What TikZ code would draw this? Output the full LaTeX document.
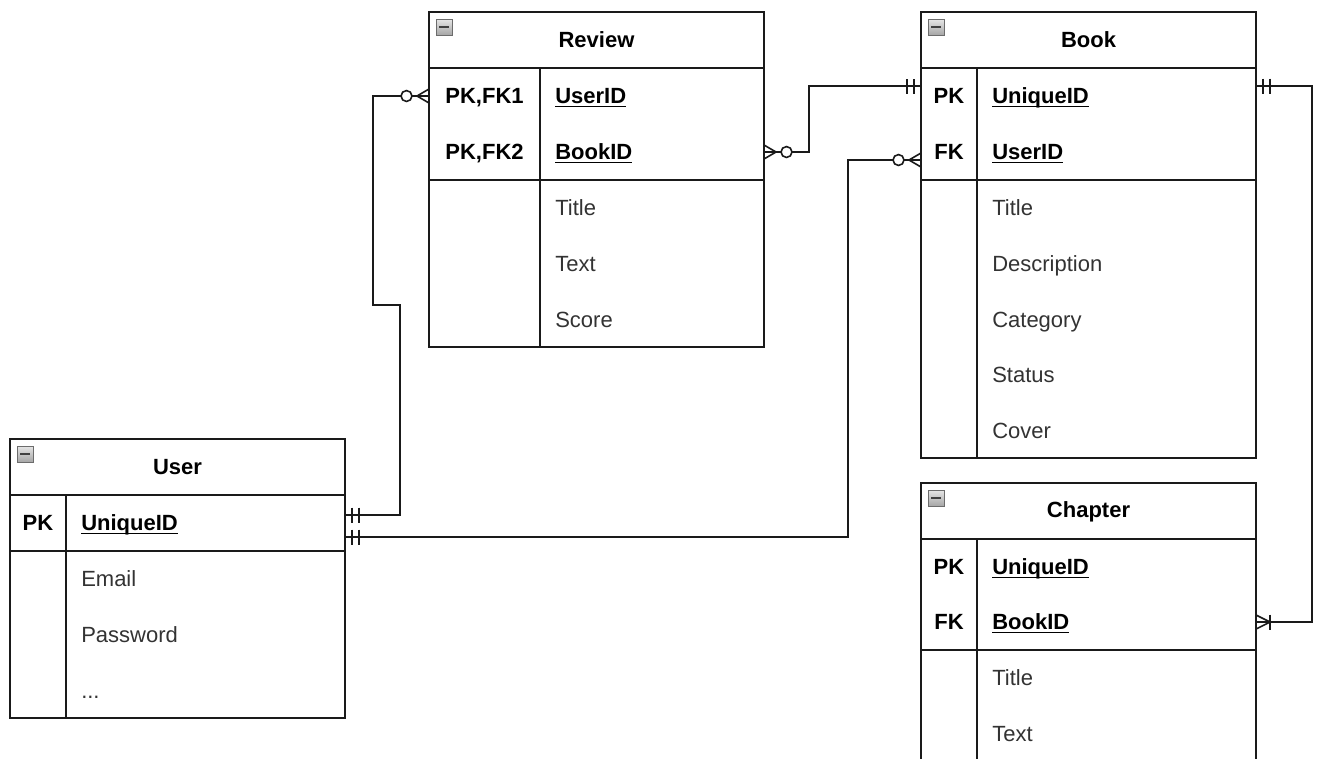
\documentclass[tikz,border=0pt]{standalone}
\usepackage{fontspec}
\setmainfont{Liberation Sans}
\usetikzlibrary{calc}
\definecolor{ln}{HTML}{1A1A1A}
\definecolor{txt}{HTML}{333333}
\newcommand\ulin[1]{\setbox0=\hbox{#1}\rlap{\rule[-2.6pt]{\wd0}{1.1pt}}\box0}
\tikzset{
  tbl/.style={draw=ln, line width=1.2pt, fill=white, rectangle, inner sep=0pt, outer sep=0pt,
              minimum width=251.25pt, anchor=north west},
  tline/.style={draw=ln, line width=1.2pt},
  basefont/.style={font=\fontsize{16.5}{19.8}\selectfont, inner sep=0pt, text height=11.8pt, text depth=0pt},
  ttl/.style={basefont, font=\fontsize{16.5}{19.8}\selectfont\bfseries, text=black},
  keyc/.style={basefont, font=\fontsize{16.5}{19.8}\selectfont\bfseries, text=black},
  fld/.style={basefont, anchor=west, text=txt},
  kfld/.style={basefont, font=\fontsize{16.5}{19.8}\selectfont\bfseries, anchor=west, text=black},
  conn/.style={draw=ln, line width=1.2pt},
  erone/.pic={\draw[conn] (7,-7.5) -- (7,7.5) (14,-7.5) -- (14,7.5);},
  erzeromany/.pic={\draw[conn] (0,-7) -- (12,0) -- (0,7) (0,0) -- (12,0);
                   \draw[conn, fill=white] (22.5,0) circle[radius=4.1pt];},
  eronemany/.pic={\draw[conn] (0,-7) -- (14,0) -- (0,7) (0,0) -- (14,0);
                  \draw[conn] (14,-7.5) -- (14,7.5);},
  colicon/.pic={\shade[top color=white!80!gray, bottom color=gray!70, draw=gray!85!black, line width=0.5pt]
                  (0,0) rectangle (16,16);
                \draw[line width=1.4pt, draw=black!75] (3,8) -- (13,8);}
}
\begin{document}
\begin{tikzpicture}[x=0.75pt,y=-0.75pt]
\useasboundingbox (0,0) rectangle (1317,758);
\fill[white] (0,0) rectangle (1317,758);
\clip (0,0) rectangle (1317,758);

% ---------- Review ----------
\node[tbl, minimum height=251.25pt] (review) at (429,12) {};
\draw[tline] (429,68) -- (764,68) (429,180) -- (764,180) (540,68) -- (540,347);
\pic at (436,19) {colicon};
\node[ttl] (revT) at (596.5,40) {Review};
\node[keyc] (revK1) at (484.5,96) {PK,FK1};
\node[keyc] (revK2) at (484.5,152) {PK,FK2};
\node[kfld] (revF1) at (555,96) {\ulin{UserID}};
\node[kfld] (revF2) at (555,152) {\ulin{BookID}};
\node[fld] (revF3) at (555,208) {Title};
\node[fld] (revF4) at (555,264) {Text};
\node[fld] (revF5) at (555,320) {Score};

% ---------- Book ----------
\node[tbl, minimum height=334.5pt] (book) at (921,12) {};
\draw[tline] (921,68) -- (1256,68) (921,180) -- (1256,180) (977,68) -- (977,458);
\pic at (928,19) {colicon};
\node[ttl] (bookT) at (1088.5,40) {Book};
\node[keyc] (bookK1) at (949,96) {PK};
\node[keyc] (bookK2) at (949,152) {FK};
\node[kfld] (bookF1) at (992,96) {\ulin{UniqueID}};
\node[kfld] (bookF2) at (992,152) {\ulin{UserID}};
\node[fld] (bookF3) at (992,208) {Title};
\node[fld] (bookF4) at (992,264) {Description};
\node[fld] (bookF5) at (992,320) {Category};
\node[fld] (bookF6) at (992,375) {Status};
\node[fld] (bookF7) at (992,431) {Cover};

% ---------- Chapter ----------
\node[tbl, minimum height=240pt] (chapter) at (921,483) {};
\draw[tline] (921,539) -- (1256,539) (921,650) -- (1256,650) (977,539) -- (977,803);
\pic at (928,490) {colicon};
\node[ttl] (chapT) at (1088.5,510) {Chapter};
\node[keyc] (chapK1) at (949,567) {PK};
\node[keyc] (chapK2) at (949,622) {FK};
\node[kfld] (chapF1) at (992,567) {\ulin{UniqueID}};
\node[kfld] (chapF2) at (992,622) {\ulin{BookID}};
\node[fld] (chapF3) at (992,678) {Title};
\node[fld] (chapF4) at (992,734) {Text};

% ---------- User ----------
\node[tbl, minimum height=209.25pt] (user) at (10,439) {};
\draw[tline] (10,495) -- (345,495) (10,551) -- (345,551) (66,495) -- (66,718);
\pic at (17,446) {colicon};
\node[ttl] (userT) at (177.5,467) {User};
\node[keyc] (userK1) at (38,523) {PK};
\node[kfld] (userF1) at (81,523) {\ulin{UniqueID}};
\node[fld] (userF2) at (81,579) {Email};
\node[fld] (userF3) at (81,635) {Password};
\node[fld] (userF4) at (81,691) {...};

% ---------- connector end points ----------
\coordinate (uA) at ($(user.east |- userF1)+(0,-8)$);
\coordinate (uB) at ($(user.east |- userF1)+(0,14)$);
\coordinate (rL) at (review.west |- revF1);
\coordinate (rR) at (review.east |- revF2);
\coordinate (bLa) at ($(book.west |- bookF1)+(0,-10)$);
\coordinate (bLb) at ($(book.west |- bookF2)+(0,8)$);
\coordinate (bR) at ($(book.east |- bookF1)+(0,-10)$);
\coordinate (cR) at (chapter.east |- chapF2);

% ---------- connectors ----------
\draw[conn] (uA) -- (400,515) -- (400,305) -- (373,305) -- (373,96) -- (rL);
\draw[conn] (uB) -- (848,537) -- (848,160) -- (bLb);
\draw[conn] (rR) -- (809,152) -- (809,86) -- (bLa);
\draw[conn] (bR) -- (1312,86) -- (1312,622) -- (cR);

% ---------- ER markers ----------
\pic at (uA) {erone};
\pic at (uB) {erone};
\pic[rotate=180] at (rL) {erzeromany};
\pic[rotate=180] at (bLb) {erzeromany};
\pic at (rR) {erzeromany};
\pic[rotate=180] at (bLa) {erone};
\pic at (bR) {erone};
\pic at (cR) {eronemany};
\end{tikzpicture}
\end{document}
